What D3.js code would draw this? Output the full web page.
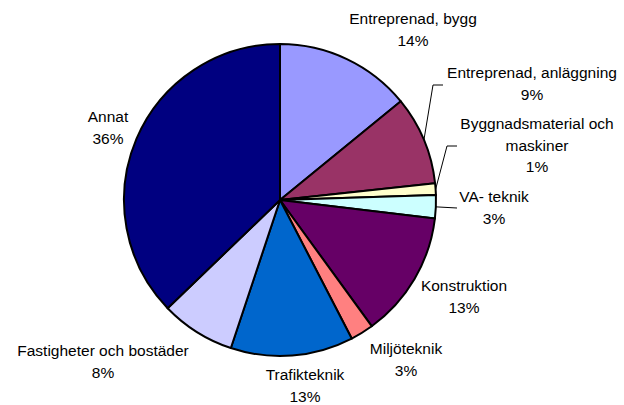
<!DOCTYPE html>
<html>
<head>
<meta charset="utf-8">
<script src="https://cdn.jsdelivr.net/npm/d3@7"></script>
<style>
body { margin:0; background:#fff; }
text { font-family: "Liberation Sans", Arial, sans-serif; fill:#000; }
</style>
</head>
<body>
<script>
// Categories, clockwise from 12 o'clock
const categories = [
"Entreprenad, bygg",
"Entreprenad, anläggning",
"Byggnadsmaterial och maskiner",
"VA- teknik",
"Konstruktion",
"Miljöteknik",
"Trafikteknik",
"Fastigheter och bostäder",
"Annat"
];

// slice shares (%)
const shares = [14.1, 9.2, 1.2, 2.4, 13.1, 2.4, 12.7, 7.7, 37.2];

// percent labels as printed
const pctLabels = ["14%", "9%", "1%", "3%", "13%", "3%", "13%", "8%", "36%"];

// label lines (category text may wrap)
const labelLines = [
["Entreprenad, bygg"],
["Entreprenad, anläggning"],
["Byggnadsmaterial och", "maskiner"],
["VA- teknik"],
["Konstruktion"],
["Miljöteknik"],
["Trafikteknik"],
["Fastigheter och bostäder"],
["Annat"]
];

const colors = ["#9999ff", "#993366", "#ffffcc", "#ccffff", "#660066",
"#ff8080", "#0066cc", "#ccccff", "#000080"];

const width = 624;
const height = 405;
const cx = 280, cy = 200, radius = 156;

// label layout: centre x, baseline of first line
const labelPos = [
[413, 24], [532, 78], [537, 129], [494, 202], [464, 291],
[406, 354], [305, 380], [103, 356], [108, 122]
];
// leader lines: elbow point and end (null = no leader)
const leaders = [
null, [[433, 85], [443, 85]], [[447, 146], [457, 146]], [[457, 208]],
null, null, null, null, null
];

const data = categories.map(function(c, i){
return {name:c, value:shares[i], pct:pctLabels[i], lines:labelLines[i]};
});

const svg = d3.select("body")
.append("svg")
.attr("width", width)
.attr("height", height);

const pie = d3.pie()
.value(function(d){ return d.value; })
.sort(null);

const arc = d3.arc()
.innerRadius(0)
.outerRadius(radius);

const arcs = pie(data);

const g = svg.append("g")
.attr("transform", "translate(" + cx + "," + cy + ")");

g.selectAll("path")
.data(arcs)
.enter()
.append("path")
.attr("d", arc)
.attr("fill", function(d, i){ return colors[i]; })
.attr("stroke", "#000")
.attr("stroke-width", 2)
.attr("stroke-linejoin", "round");

// leader lines from slice edge
arcs.forEach(function(d, i){
if (!leaders[i]) return;
const a = (d.startAngle + d.endAngle) / 2;
const start = [cx + radius * Math.sin(a), cy - radius * Math.cos(a)];
const pts = [start].concat(leaders[i]);
svg.append("path")
.attr("d", d3.line()(pts))
.attr("fill", "none")
.attr("stroke", "#000")
.attr("stroke-width", 1);
});

// labels
const lineH = 21.5;
data.forEach(function(d, i){
const t = svg.append("text")
.attr("text-anchor", "middle")
.attr("font-size", "15.5px");
const lines = d.lines.concat([d.pct]);
lines.forEach(function(s, j){
t.append("tspan")
.attr("x", labelPos[i][0])
.attr("y", labelPos[i][1] + j * lineH)
.text(s);
});
});
</script>
</body>
</html>
